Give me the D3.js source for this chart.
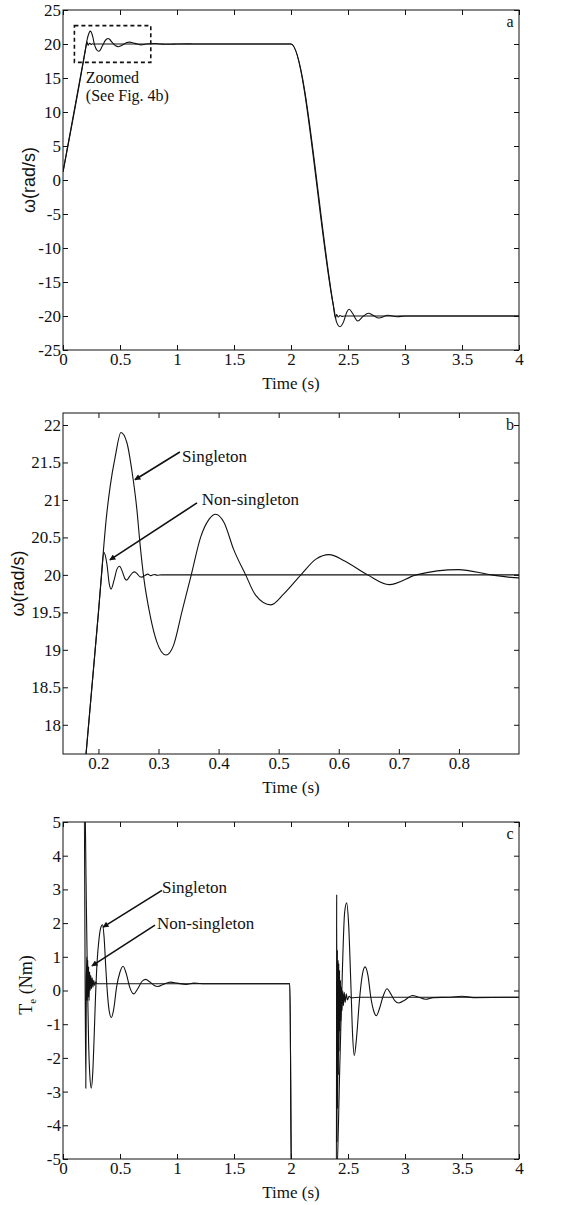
<!DOCTYPE html>
<html>
<head>
<meta charset="utf-8">
<script src="https://cdn.jsdelivr.net/npm/d3@7"></script>
<style>
  body { margin: 0; background: #fff; }
</style>
</head>
<body>
<div id="chart"></div>
<script>
// tick values
const timeTicks = [0, 0.5, 1, 1.5, 2, 2.5, 3, 3.5, 4];
const zoomTimeTicks = [0.2, 0.3, 0.4, 0.5, 0.6, 0.7, 0.8];
const speedTicks = [-25, -20, -15, -10, -5, 0, 5, 10, 15, 20, 25];
const zoomSpeedTicks = [18, 18.5, 19, 19.5, 20, 20.5, 21, 21.5, 22];
const torqueTicks = [-5, -4, -3, -2, -1, 0, 1, 2, 3, 4, 5];

// rotor speed (rad/s) vs time (s)
const speedSingleton = [
  [0, 1.2], [0.2, 19.5], [0.206, 20.1], [0.213, 20.75], [0.2195, 21.18],
  [0.228, 21.58], [0.2375, 21.9], [0.2475, 21.76], [0.2555, 21.4], [0.264, 20.87],
  [0.269, 20.43], [0.275, 19.99], [0.286, 19.46], [0.297, 19.11], [0.3125, 18.93],
  [0.325, 19.06], [0.339, 19.51], [0.3545, 20.0], [0.37, 20.5], [0.384, 20.74],
  [0.395, 20.81], [0.409, 20.7], [0.425, 20.34], [0.445, 20.0], [0.4615, 19.73],
  [0.487, 19.6], [0.509, 19.75], [0.537, 20.0], [0.562, 20.21], [0.584, 20.27],
  [0.609, 20.19], [0.648, 20.0], [0.684, 19.87], [0.729, 20.0], [0.799, 20.07],
  [0.8545, 20.0], [0.9, 19.96], [0.95, 19.97], [1.0, 20.0], [1.1, 20.02], [1.2, 20.0],
  [2.0, 20.0], [2.37, -18.3], [2.4, -20.9], [2.43, -21.57], [2.46, -20.9], [2.49, -19.4],
  [2.51, -19.0], [2.54, -19.6], [2.585, -20.74], [2.63, -20.1], [2.68, -19.6],
  [2.72, -19.9], [2.77, -20.3], [2.85, -19.9], [2.93, -20.1], [3.0, -20.0], [4.0, -20.0]
];
const speedNonSingleton = [
  [0, 1.2], [0.2, 19.5], [0.205, 19.98], [0.209, 20.3], [0.214, 20.15],
  [0.218, 19.88], [0.221, 19.81], [0.226, 19.93], [0.231, 20.08], [0.235, 20.115],
  [0.24, 20.04], [0.244, 19.95], [0.247, 19.93], [0.252, 19.98], [0.257, 20.03],
  [0.26, 20.04], [0.265, 20.01], [0.269, 19.975], [0.272, 19.97], [0.277, 19.99],
  [0.282, 20.01], [0.287, 19.99], [0.293, 20.005], [0.298, 19.995], [0.305, 20],
  [2.0, 20], [2.37, -18.3], [2.39, -20.3], [2.4, -19.8], [2.415, -20.15], [2.43, -19.92],
  [2.445, -20.05], [2.47, -20], [4, -20]
];

// electromagnetic torque (Nm) vs time (s)
const torqueSingleton = [
  [0, 6], [0.19, 6], [0.205, 2.5], [0.215, 0.2], [0.225, -1.6], [0.235, -2.5],
  [0.248, -2.9], [0.26, -2.5], [0.272, -1.5], [0.285, -0.2], [0.3, 0.9], [0.315, 1.5],
  [0.33, 1.85], [0.347, 1.95], [0.36, 1.6], [0.375, 0.7], [0.39, -0.1], [0.405, -0.6],
  [0.424, -0.8], [0.445, -0.55], [0.47, 0.1], [0.5, 0.55], [0.527, 0.72], [0.555, 0.5],
  [0.585, 0.1], [0.62, -0.1], [0.655, 0.05], [0.69, 0.26], [0.724, 0.33], [0.76, 0.26],
  [0.8, 0.15], [0.833, 0.12], [0.88, 0.18], [0.943, 0.25], [1.0, 0.22], [1.08, 0.18],
  [1.15, 0.22], [1.25, 0.2], [1.99, 0.2], [2.005, -6], [2.395, -6], [2.43, -2.0],
  [2.45, 0.5], [2.47, 2.3], [2.488, 2.6], [2.505, 2.0], [2.525, 0.2], [2.54, -1.3],
  [2.555, -1.93], [2.575, -1.4], [2.6, -0.3], [2.625, 0.45], [2.65, 0.7], [2.675, 0.45],
  [2.7, -0.2], [2.725, -0.6], [2.748, -0.75], [2.775, -0.55], [2.81, -0.15], [2.842, 0.05],
  [2.875, -0.1], [2.91, -0.3], [2.946, -0.37], [3.0, -0.28], [3.064, -0.15], [3.12, -0.2],
  [3.18, -0.26], [3.25, -0.21], [3.4, -0.2], [3.5, -0.17], [3.6, -0.21], [4, -0.2]
];
const torqueNonSingleton = [
  [0, 6], [0.185, 6], [0.2, -2.9], [0.205, 0.3], [0.209, 1.0], [0.213, -0.3], [0.217, 0.9],
  [0.221, -0.2], [0.225, 0.7], [0.229, -0.3], [0.234, 0.55], [0.239, 0.0], [0.244, 0.45],
  [0.25, 0.05], [0.256, 0.38], [0.263, 0.1], [0.27, 0.3], [0.278, 0.15], [0.287, 0.25],
  [0.3, 0.2], [1.99, 0.2], [2.005, -6], [2.398, -6], [2.401, 2.85], [2.404, -4.5],
  [2.407, 1.2], [2.41, -3.5], [2.413, 0.9], [2.416, -2.5], [2.419, 0.8], [2.422, -1.8],
  [2.426, 0.6], [2.43, -1.2], [2.434, 0.3], [2.438, -0.9], [2.443, 0.1], [2.448, -0.6],
  [2.454, 0.0], [2.46, -0.45], [2.467, -0.05], [2.475, -0.35], [2.485, -0.1],
  [2.495, -0.28], [2.51, -0.17], [2.53, -0.22], [2.6, -0.2], [4, -0.2]
];

// region shown in panel b, marked in panel a
const zoomBoxTime = [0.1, 0.77];
const zoomBoxSpeed = [17.3, 22.7];

const width = 563;
const height = 1205;
const left = 63;
const right = 519;
const serif = '"Liberation Serif", "Times New Roman", serif';
const sans = '"Liberation Sans", Arial, sans-serif';
const fontSize = 17;

const svg = d3.select('#chart').append('svg')
  .attr('width', width)
  .attr('height', height)
  .style('display', 'block');

svg.append('defs').append('marker')
  .attr('id', 'arrow')
  .attr('viewBox', '0 0 10 10')
  .attr('refX', 9)
  .attr('refY', 5)
  .attr('markerWidth', 10)
  .attr('markerHeight', 6)
  .attr('markerUnits', 'userSpaceOnUse')
  .attr('orient', 'auto')
  .append('path')
  .attr('d', 'M0,0 L10,5 L0,10 Z')
  .attr('fill', '#111');

function drawPanel(cfg) {
  const x = d3.scaleLinear().domain(cfg.xDomain).range([left, right]);
  const y = d3.scaleLinear().domain(cfg.yDomain).range([cfg.bottom, cfg.top]);
  const g = svg.append('g');

  g.append('clipPath').attr('id', `clip-${cfg.id}`)
    .append('rect')
    .attr('x', left).attr('y', cfg.top)
    .attr('width', right - left).attr('height', cfg.bottom - cfg.top);

  const line = d3.line()
    .x((d) => x(d[0]))
    .y((d) => y(d[1]))
    .curve(d3.curveMonotoneX);

  cfg.series.forEach((s) => {
    g.append('path')
      .datum(s)
      .attr('clip-path', `url(#clip-${cfg.id})`)
      .attr('fill', 'none')
      .attr('stroke', '#111')
      .attr('stroke-width', 1.1)
      .attr('d', line);
  });

  const fmt = (d) => String(d);
  const tick = 5;

  g.append('g')
    .attr('transform', `translate(0, ${cfg.bottom})`)
    .call(d3.axisBottom(x).tickValues(cfg.xTicks).tickFormat(fmt).tickSize(-tick).tickSizeOuter(0).tickPadding(3));
  g.append('g')
    .attr('transform', `translate(0, ${cfg.top})`)
    .call(d3.axisTop(x).tickValues(cfg.xTicks).tickFormat('').tickSize(-tick).tickSizeOuter(0));
  g.append('g')
    .attr('transform', `translate(${left}, 0)`)
    .call(d3.axisLeft(y).tickValues(cfg.yTicks).tickFormat(fmt).tickSize(-tick).tickSizeOuter(0).tickPadding(2));
  g.append('g')
    .attr('transform', `translate(${right}, 0)`)
    .call(d3.axisRight(y).tickValues(cfg.yTicks).tickFormat('').tickSize(-tick).tickSizeOuter(0));

  g.selectAll('.domain').remove();
  g.selectAll('.tick line').attr('stroke', '#111');
  g.selectAll('.tick text')
    .attr('fill', '#111')
    .attr('font-family', serif)
    .attr('font-size', fontSize);

  g.append('rect')
    .attr('x', left).attr('y', cfg.top)
    .attr('width', right - left).attr('height', cfg.bottom - cfg.top)
    .attr('fill', 'none')
    .attr('stroke', '#111')
    .attr('stroke-width', 1);

  g.append('text')
    .attr('x', (left + right) / 2)
    .attr('y', cfg.bottom + 39)
    .attr('text-anchor', 'middle')
    .attr('font-family', serif)
    .attr('font-size', fontSize)
    .attr('fill', '#111')
    .text('Time (s)');

  g.append('text')
    .attr('x', right - 9)
    .attr('y', cfg.top + 17)
    .attr('text-anchor', 'middle')
    .attr('font-family', serif)
    .attr('font-size', 16)
    .attr('fill', '#111')
    .text(cfg.letter);

  (cfg.notes || []).forEach((n) => {
    g.append('line')
      .attr('x1', x(n.from[0])).attr('y1', y(n.from[1]))
      .attr('x2', x(n.to[0])).attr('y2', y(n.to[1]))
      .attr('stroke', '#111')
      .attr('stroke-width', 1.6)
      .attr('marker-end', 'url(#arrow)');
    g.append('text')
      .attr('x', x(n.at[0])).attr('y', y(n.at[1]))
      .attr('font-family', serif)
      .attr('font-size', fontSize)
      .attr('fill', '#111')
      .text(n.text);
  });

  return { g, x, y };
}

// panel a
const a = drawPanel({
  id: 'a', letter: 'a', top: 10, bottom: 350,
  xDomain: [0, 4], yDomain: [-25, 25],
  xTicks: timeTicks, yTicks: speedTicks,
  series: [speedSingleton, speedNonSingleton]
});
a.g.append('rect')
  .attr('x', a.x(zoomBoxTime[0]))
  .attr('y', a.y(zoomBoxSpeed[1]))
  .attr('width', a.x(zoomBoxTime[1]) - a.x(zoomBoxTime[0]))
  .attr('height', a.y(zoomBoxSpeed[0]) - a.y(zoomBoxSpeed[1]))
  .attr('fill', 'none')
  .attr('stroke', '#111')
  .attr('stroke-width', 1.6)
  .attr('stroke-dasharray', '4,3');
a.g.append('text')
  .attr('x', a.x(0.2)).attr('y', a.y(14.2))
  .attr('font-family', serif).attr('font-size', 16).attr('fill', '#111')
  .text('Zoomed');
a.g.append('text')
  .attr('x', a.x(0.2)).attr('y', a.y(11.6))
  .attr('font-family', serif).attr('font-size', 16).attr('fill', '#111')
  .text('(See Fig. 4b)');
a.g.append('text')
  .attr('transform', `translate(35, ${(10 + 350) / 2}) rotate(-90)`)
  .attr('text-anchor', 'middle')
  .attr('font-family', sans).attr('font-size', 18).attr('fill', '#111')
  .text('ω(rad/s)');

// panel b
const b = drawPanel({
  id: 'b', letter: 'b', top: 413, bottom: 754,
  xDomain: [0.141, 0.9], yDomain: [17.61, 22.16],
  xTicks: zoomTimeTicks, yTicks: zoomSpeedTicks,
  series: [speedSingleton, speedNonSingleton],
  notes: [
    { text: 'Singleton', at: [0.339, 21.51], from: [0.3355, 21.64], to: [0.2607, 21.27] },
    { text: 'Non-singleton', at: [0.372, 20.93], from: [0.364, 20.96], to: [0.219, 20.2] }
  ]
});
b.g.append('text')
  .attr('transform', `translate(24, ${(413 + 754) / 2}) rotate(-90)`)
  .attr('text-anchor', 'middle')
  .attr('font-family', sans).attr('font-size', 18).attr('fill', '#111')
  .text('ω(rad/s)');

// panel c
const c = drawPanel({
  id: 'c', letter: 'c', top: 822, bottom: 1159,
  xDomain: [0, 4], yDomain: [-5, 5],
  xTicks: timeTicks, yTicks: torqueTicks,
  series: [torqueSingleton, torqueNonSingleton],
  notes: [
    { text: 'Singleton', at: [0.868, 2.88], from: [0.868, 2.97], to: [0.351, 1.88] },
    { text: 'Non-singleton', at: [0.825, 1.83], from: [0.807, 1.94], to: [0.254, 0.73] }
  ]
});
const tl = c.g.append('text')
  .attr('transform', `translate(32, 985) rotate(-90)`)
  .attr('text-anchor', 'middle')
  .attr('font-family', serif).attr('font-size', 18).attr('fill', '#111');
tl.append('tspan').text('T');
tl.append('tspan').attr('font-size', 11).attr('dy', 4).text('e');
tl.append('tspan').attr('dy', -4).text(' (Nm)');
</script>
</body>
</html>
